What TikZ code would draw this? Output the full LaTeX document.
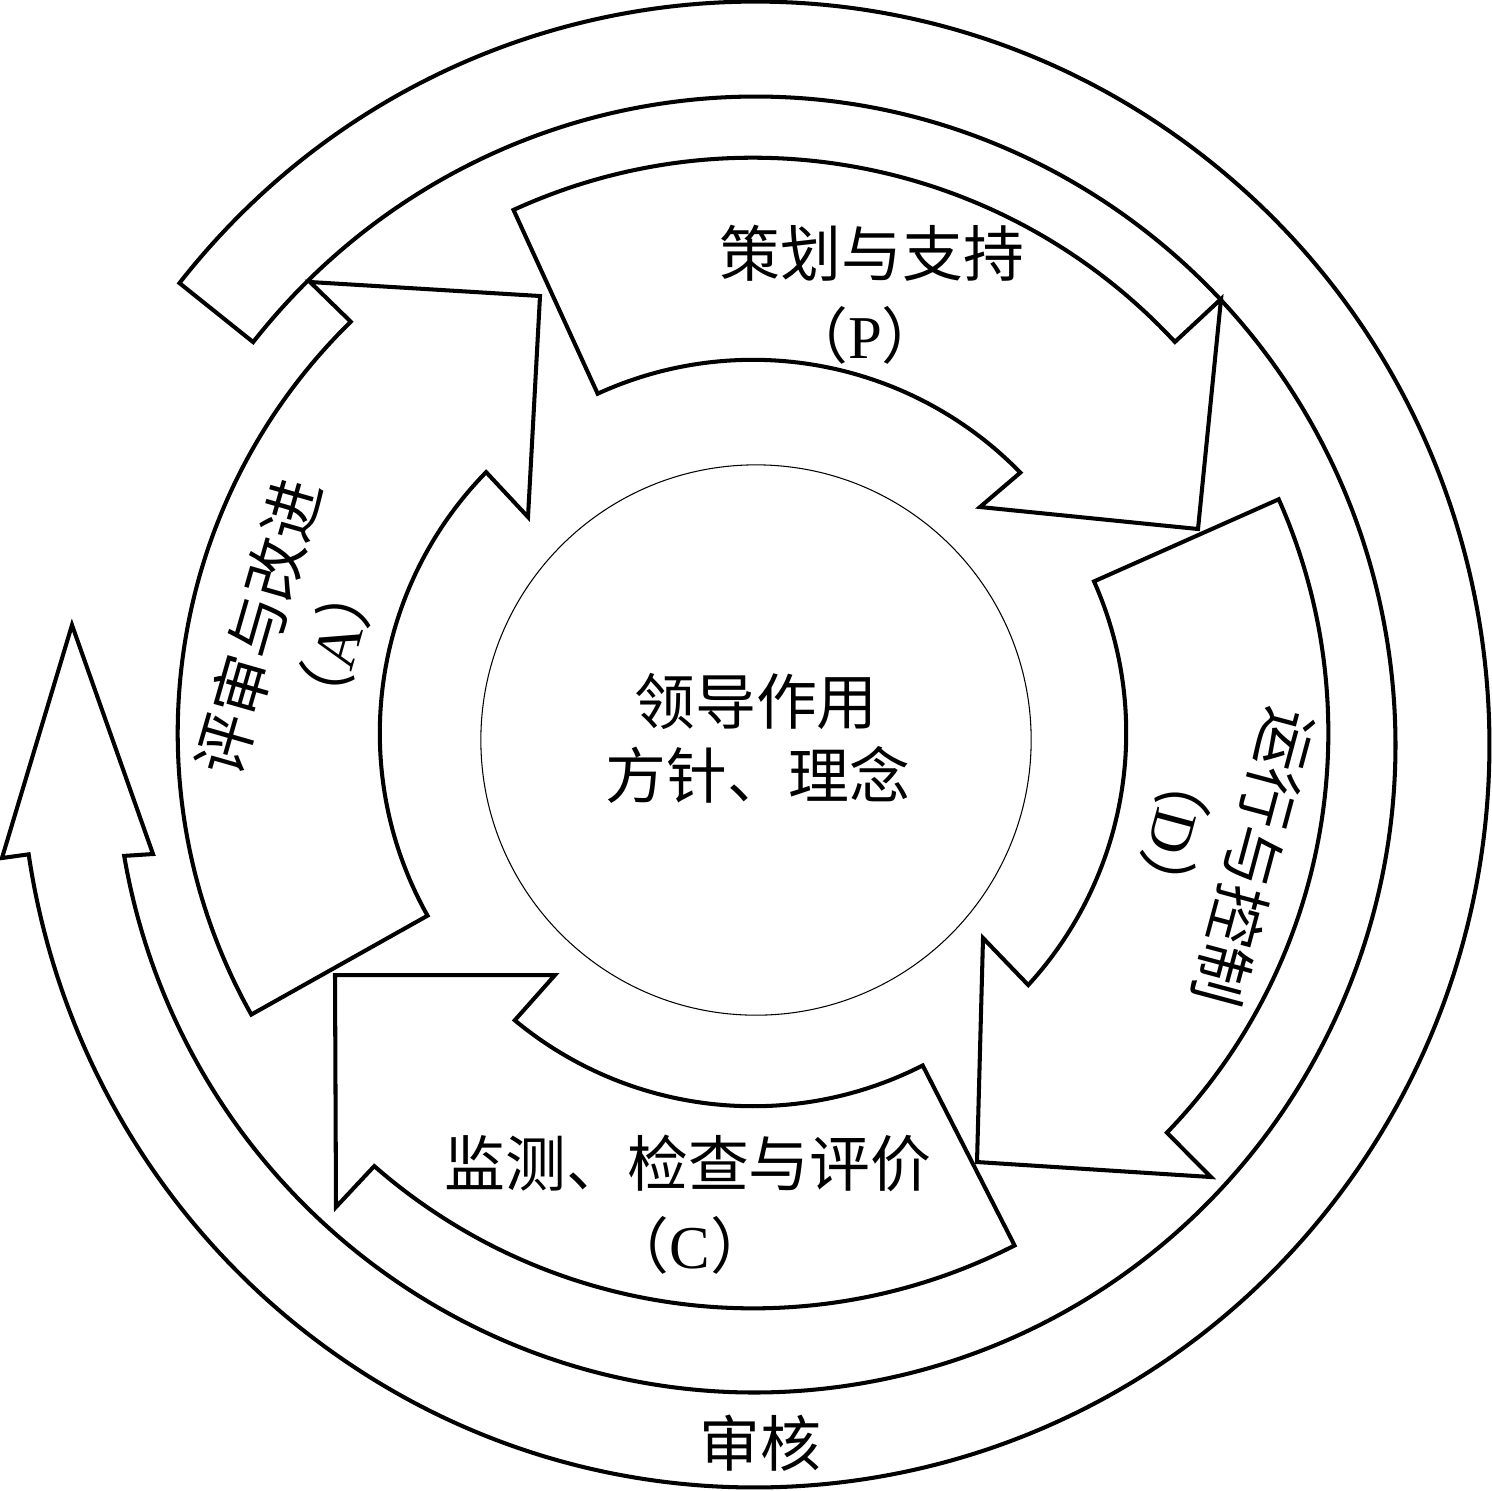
\documentclass[tikz,border=0pt]{standalone}
\usepackage{fontspec}
\setmainfont{Liberation Serif}
\newfontfamily\cjk{Noto Sans CJK SC}
\newfontfamily\latf{Liberation Serif}
\usetikzlibrary{calc}
\begin{document}
\begin{tikzpicture}[x=0.01cm,y=-0.01cm,
  shp/.style={draw=black,line width=1.15pt,line join=miter},
  lbl/.style={inner sep=0pt,font=\cjk\fontsize{17.3pt}{20pt}\selectfont}]
\useasboundingbox (0,0) rectangle (1492,1490);
% centres
\coordinate (R) at (755,744.5);
\coordinate (O) at (753,733);
% outer ring arrow (audit)
\draw[shp] ($(R)+(141.6:7.34cm and 7.425cm)$)
  arc[start angle=141.6,end angle=-171.5,x radius=7.34cm,y radius=7.425cm]
  -- (2,858) -- (72,625) -- (153,854)
  -- ($(R)+(-170.1:6.40cm and 6.475cm)$)
  arc[start angle=-170.1,end angle=141.6,x radius=6.40cm,y radius=6.475cm]
  -- cycle;
% P arrow
\draw[shp] ($(O)+(114.6:5.75cm)$)
  arc[start angle=114.6,end angle=42.83,radius=5.75cm]
  -- (1221,299) -- (1198,529) -- (980,507)
  -- ($(O)+(44.25:3.73cm)$)
  arc[start angle=44.25,end angle=114.6,radius=3.73cm] -- cycle;
% D arrow
\draw[shp] ($(O)+(23.97:5.75cm)$)
  arc[start angle=23.97,end angle=-44.0,radius=5.75cm]
  -- (1211,1177) -- (977,1162) -- (983,938)
  -- ($(O)+(-42.48:3.73cm)$)
  arc[start angle=-42.48,end angle=23.97,radius=3.73cm] -- cycle;
% C arrow
\draw[shp] ($(O)+(-62.96:5.75cm)$)
  arc[start angle=-62.96,end angle=-131.17,radius=5.75cm]
  -- (336,1207) -- (335,975) -- (555,975)
  -- ($(O)+(-129.67:3.73cm)$)
  arc[start angle=-129.67,end angle=-62.96,radius=3.73cm] -- cycle;
% A arrow
\draw[shp] ($(O)+(-150.7:5.75cm)$)
  arc[start angle=-150.7,end angle=-225.64,radius=5.75cm]
  -- (310,282) -- (540,296) -- (528,517)
  -- ($(O)+(135.65:3.73cm)$)
  arc[start angle=-224.35,end angle=-150.7,radius=3.73cm] -- cycle;
% core circle
\node[circle,draw=black,line width=0.3pt,minimum size=5.5cm,inner sep=0pt] (core) at (756,740) {};
% texts
\node[lbl] (core1) at (756,701) {领导作用};
\node[lbl] (core2) at (758,775) {方针、理念};
\node[lbl] (ptext) at (872,253) {策划与支持};
\node[lbl] (pkey) at (865,335) {（{\latf P}）};
\node[lbl,rotate=-105] (dtext) at (1254,857) {运行与控制};
\node[lbl,rotate=-105] (dkey) at (1175,833) {（{\latf D}）};
\node[lbl] (ctext) at (688,1163) {监测、检查与评价};
\node[lbl] (ckey) at (690,1245) {（{\latf C}）};
\node[lbl,rotate=74] (atext) at (258,627) {评审与改进};
\node[lbl,rotate=74] (akey) at (335,645) {（{\latf A}）};
\node[lbl] (audit) at (760,1443) {审核};
\end{tikzpicture}
\end{document}
